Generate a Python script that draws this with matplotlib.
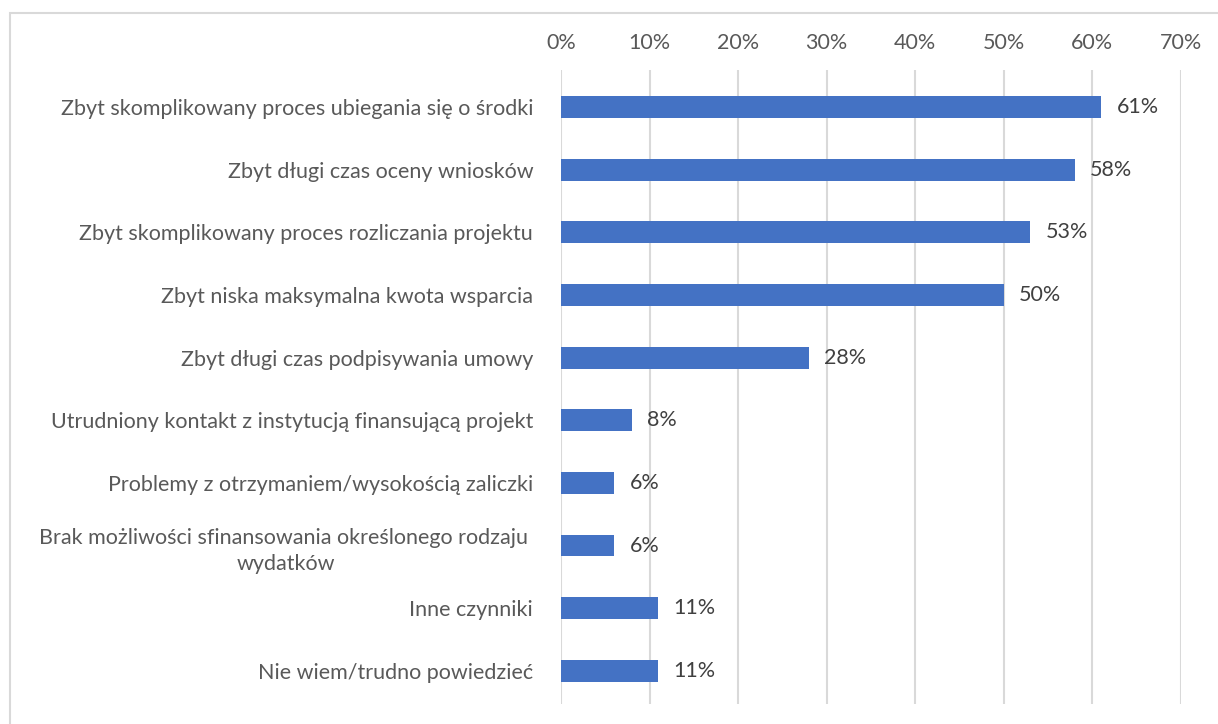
import matplotlib
matplotlib.use("Agg")
import matplotlib.pyplot as plt
from matplotlib.patches import Rectangle
from matplotlib.ticker import FuncFormatter, MultipleLocator

categories = [
    "Zbyt skomplikowany proces ubiegania się o środki",
    "Zbyt długi czas oceny wniosków",
    "Zbyt skomplikowany proces rozliczania projektu",
    "Zbyt niska maksymalna kwota wsparcia",
    "Zbyt długi czas podpisywania umowy",
    "Utrudniony kontakt z instytucją finansującą projekt",
    "Problemy z otrzymaniem/wysokością zaliczki",
    "Brak możliwości sfinansowania określonego rodzaju \nwydatków",
    "Inne czynniki",
    "Nie wiem/trudno powiedzieć",
]
values = [61, 58, 53, 50, 28, 8, 6, 6, 11, 11]

plt.rcParams["font.family"] = ["Lato", "DejaVu Sans"]

W, H = 1218, 724
fig = plt.figure(figsize=(W / 100, H / 100), dpi=100)

# chart frame (cropped on the right and bottom)
fig.patches.append(Rectangle((10 / W, -0.1), 1.2, 1 - 13 / H + 0.1,
                             transform=fig.transFigure, fill=False,
                             edgecolor="#D9D9D9", linewidth=1.5))

ax = fig.add_axes([561 / W, 1 - 704 / H, (1181 - 561) / W, (704 - 70) / H])

ypos = list(range(len(categories)))
ax.barh(ypos, values, height=0.35, color="#4472C4", zorder=3)

for y, v in zip(ypos, values):
    ax.annotate(f"{v}%", (v, y), xytext=(11, 0), textcoords="offset points",
                va="center", ha="left", fontsize=15.5, color="#404040")

ax.set_xlim(0, 70)
ax.set_ylim(9.53, -0.59)
ax.xaxis.set_major_locator(MultipleLocator(10))
ax.xaxis.set_major_formatter(FuncFormatter(lambda x, _: f"{x:.0f}%"))
ax.xaxis.tick_top()
ax.tick_params(axis="x", length=0, pad=12, labelsize=15.5, labelcolor="#595959")
ax.set_yticks(ypos)
ax.set_yticklabels(categories, multialignment="center", linespacing=1.4)
ax.tick_params(axis="y", length=0, pad=20, labelsize=15.5, labelcolor="#595959")

ax.grid(axis="x", color="#D9D9D9", linewidth=1.5, zorder=0)
for s in ax.spines.values():
    s.set_visible(False)

fig.savefig("out.png", dpi=100)
